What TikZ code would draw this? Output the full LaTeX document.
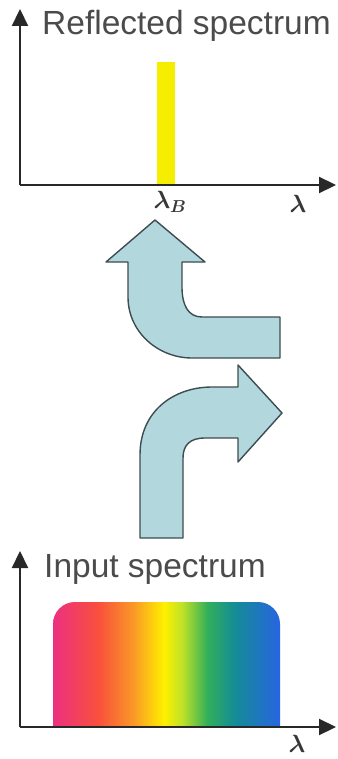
\documentclass[tikz,border=0pt]{standalone}
\usepackage{amsmath}
\usepackage{fontspec}
\setmainfont{Liberation Sans}
\usetikzlibrary{arrows.meta}
\definecolor{rc0}{RGB}{236,48,128}
\definecolor{rc1}{RGB}{248,80,60}
\definecolor{rc2}{RGB}{250,150,40}
\definecolor{rc3}{RGB}{255,240,0}
\definecolor{rc4}{RGB}{190,225,40}
\definecolor{rc5}{RGB}{50,175,90}
\definecolor{rc6}{RGB}{20,140,150}
\definecolor{rc7}{RGB}{40,100,225}
\definecolor{arrowfill}{RGB}{178,216,222}
\definecolor{arrowline}{RGB}{60,76,80}
\definecolor{axiscol}{RGB}{40,40,40}
\definecolor{textcol}{RGB}{75,75,75}
\definecolor{lamcol}{RGB}{55,55,55}
\definecolor{barcol}{RGB}{245,238,0}
\pgfdeclarehorizontalshading{rainbow}{100bp}{color(0bp)=(rc0); color(25bp)=(rc0); color(35bp)=(rc1); color(42.5bp)=(rc2); color(49.5bp)=(rc3); color(53.5bp)=(rc4); color(59bp)=(rc5); color(65bp)=(rc6); color(75bp)=(rc7); color(100bp)=(rc7)}
\tikzset{
  axisline/.style={line width=2.2pt, draw=axiscol, -{Triangle[length=17pt,width=16pt]}},
  bigarrow/.style={fill=arrowfill, draw=arrowline, line width=1.4pt, line join=round},
  title/.style={text=textcol, font=\fontsize{33.5}{40}\selectfont, inner sep=0pt, anchor=base west},
  lam/.style={text=lamcol, font=\fontsize{27}{30}\selectfont, inner sep=0pt}
}
\begin{document}
\begin{tikzpicture}[x=1pt,y=-1pt]
\useasboundingbox (0,0) rectangle (337,759);
% top plot
\fill[barcol] (157,62) rectangle (175,185);
\coordinate (o1) at (20,185);
\coordinate (y1) at (20,9);
\coordinate (x1) at (336,185);
\draw[axisline] (o1) -- (y1);
\draw[axisline] (o1) -- (x1);
\node[title] (t1) at (42,35) {Reflected spectrum};
\node[lam] (lb) at (170,202) {$\boldsymbol{\lambda}_{\boldsymbol{B}}$};
\node[lam] (l1) at (298,204) {$\boldsymbol{\lambda}$};
% upper arrow
\draw[bigarrow] (155,220) -- (205,262) -- (182,262) -- (182,287)
  .. controls (182,305) and (188,317) .. (202,317) -- (280,317) -- (280,358) -- (192,358)
  .. controls (158,358) and (128,332) .. (128,297) -- (128,262) -- (106,262) -- cycle;
% lower arrow
\draw[bigarrow] (140,538) -- (140,455)
  .. controls (140,410) and (175,387) .. (212,387) -- (238,387) -- (238,365) -- (282,413)
  -- (238,462) -- (238,438) -- (205,438)
  .. controls (190,438) and (183,445) .. (183,458) -- (183,538) -- cycle;
% bottom plot
\path[shading=rainbow] (53,727) [rounded corners=22pt] -- (53,602) -- (280,602) [sharp corners] -- (280,727) -- cycle;
\coordinate (o2) at (20,727);
\coordinate (y2) at (20,551);
\coordinate (x2) at (336,727);
\draw[axisline] (o2) -- (y2);
\draw[axisline] (o2) -- (x2);
\node[title] (t2) at (44,577) {Input spectrum};
\node[lam] (l2) at (297,744) {$\boldsymbol{\lambda}$};
\end{tikzpicture}
\end{document}
